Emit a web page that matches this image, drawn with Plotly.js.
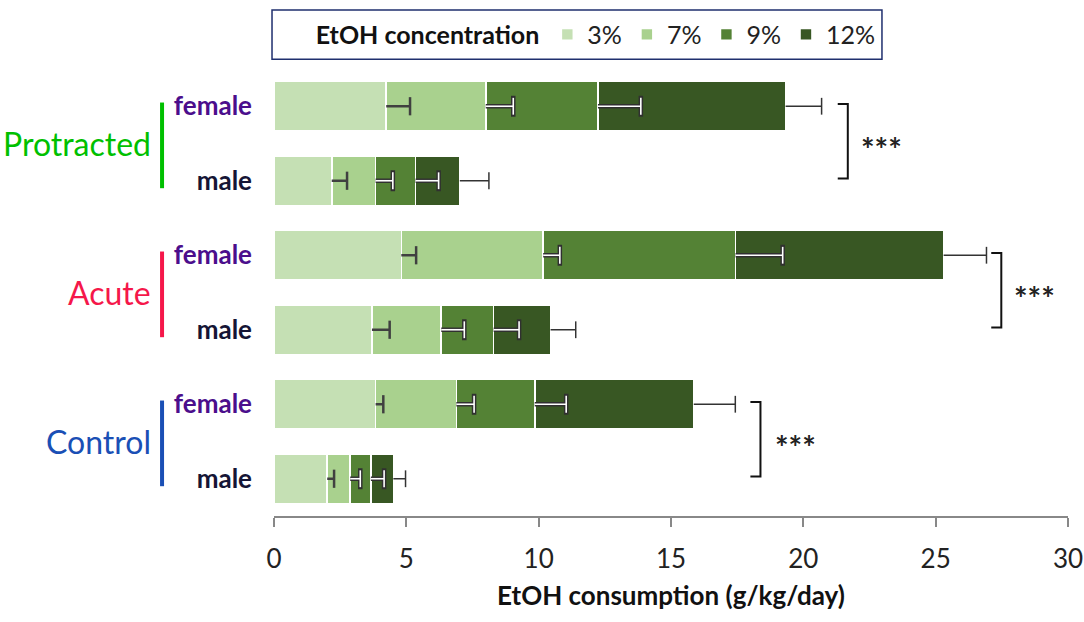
<!DOCTYPE html>
<html>
<head>
<meta charset="utf-8">
<script src="https://cdn.plot.ly/plotly-3.0.1.min.js"></script>
<style>html,body{margin:0;padding:0;background:#fff;}#chart{width:1084px;height:622px;}</style>
</head>
<body>
<div id="chart"></div>
<script>
// ---------- data ----------
const groups = ['Protracted', 'Acute', 'Control'];
const sexes = ['female', 'male'];
const concentrations = ['3%', '7%', '9%', '12%'];
// rows: Protracted female, Protracted male, Acute female, Acute male, Control female, Control male
const conc3  = [4.24, 2.18, 4.81, 3.70, 3.84, 2.01];
const conc7  = [3.76, 1.66, 5.36, 2.62, 3.05, 0.87];
const conc9  = [4.24, 1.51, 7.27, 1.98, 2.96, 0.78];
const conc12 = [7.09, 1.67, 7.86, 2.15, 6.01, 0.85];
const err3   = [0.90, 0.58, 0.56, 0.67, 0.29, 0.26];
const err7   = [1.04, 0.65, 0.63, 0.87, 0.67, 0.38];
const err9   = [1.62, 0.87, 1.78, 0.96, 1.19, 0.50];
const err12  = [1.36, 1.10, 1.62, 0.95, 1.57, 0.46];
const significance = ['***', '***', '***'];
const xTicks = [0, 5, 10, 15, 20, 25, 30];

// ---------- styling ----------
const FONT = 'Lato, "Open Sans", sans-serif';
const barColors = ['#c5e0b4', '#a9d18e', '#548235', '#385723'];
const groupColors = ['#00c000', '#f5174a', '#1a4fb5'];
const sexColors = {female: '#4b0e8c', male: '#151535'};

const rowLabels = [];
groups.forEach((g, gi) => sexes.forEach(s => { rowLabels.push(s); }));
const nRows = rowLabels.length;
const ypos = rowLabels.map((_, i) => nRows - 1 - i);

const series = [conc3, conc7, conc9, conc12];
const errs = [err3, err7, err9, err12];

// cumulative ends
const cum = [];
let run = rowLabels.map(() => 0);
series.forEach(s => { run = run.map((v, i) => v + s[i]); cum.push(run.slice()); });

const traces = [];
series.forEach((s, k) => {
  traces.push({
    type: 'bar', orientation: 'h', name: concentrations[k],
    x: s, y: ypos,
    marker: {color: barColors[k], line: {color: '#ffffff', width: 1.6}},
    hoverinfo: 'x+name'
  });
});

function whisker(k, color, lw, capSize) {
  const xs = [], ys = [];
  cum[k].forEach((c, i) => { xs.push(c, c + errs[k][i], null); ys.push(ypos[i], ypos[i], null); });
  traces.push({type: 'scatter', mode: 'lines', x: xs, y: ys, showlegend: false, hoverinfo: 'skip',
    line: {color: color, width: lw}});
  traces.push({type: 'scatter', mode: 'markers', x: cum[k].map((c, i) => c + errs[k][i]), y: ypos,
    showlegend: false, hoverinfo: 'skip',
    marker: {symbol: 'line-ns', size: capSize, color: color, line: {color: color, width: lw}}});
}
// 3% : dark grey
whisker(0, '#404040', 2.5, 13);
// 7% & 9% : white with dark outline
whisker(1, '#303030', 4.5, 15);
whisker(1, '#ffffff', 1.6, 12);
whisker(2, '#303030', 4.5, 15);
whisker(2, '#ffffff', 1.6, 12);
// 12% : thin dark
whisker(3, '#333333', 1.5, 12);

// ---------- annotations & shapes ----------
const annotations = [];
const shapes = [];
const bracketX = [21.3, 27.1, 18.0];
const starX = [22.95, 28.75, 19.7];
groups.forEach((g, gi) => {
  const yf = ypos[gi * 2], ym = ypos[gi * 2 + 1];
  const mid = (yf + ym) / 2;
  annotations.push({xref: 'paper', yref: 'y', x: -0.152, y: mid, xanchor: 'right', yanchor: 'middle',
    text: g, showarrow: false, font: {family: FONT, size: 32, color: groupColors[gi]}});
  shapes.push({type: 'line', xref: 'paper', yref: 'y', x0: -0.141, x1: -0.141, y0: yf + 0.05, y1: ym - 0.1,
    line: {color: groupColors[gi], width: 4}});
  const bx = bracketX[gi];
  shapes.push({type: 'path', xref: 'x', yref: 'y',
    path: `M${bx},${yf + 0.03} L${bx + 0.38},${yf + 0.03} L${bx + 0.38},${ym + 0.03} L${bx},${ym + 0.03}`,
    line: {color: '#111', width: 2}});
  annotations.push({xref: 'x', yref: 'y', x: starX[gi], y: mid + 0.03, xanchor: 'center', yanchor: 'middle',
    yshift: -8, text: significance[gi], showarrow: false,
    font: {family: FONT, size: 32, color: '#222', weight: 'bold'}});
});

// legend box
shapes.push({type: 'rect', xref: 'paper', yref: 'paper', x0: -0.0025, x1: 0.7657, y0: 1.022, y1: 1.1322,
  line: {color: '#1f2f6e', width: 1.5}, fillcolor: 'rgba(0,0,0,0)'});

const layout = {
  width: 1084, height: 622,
  margin: {l: 274, r: 16, t: 60, b: 106},
  paper_bgcolor: '#fff', plot_bgcolor: '#fff',
  barmode: 'stack', bargap: 0.33,
  font: {family: FONT, color: '#222'},
  showlegend: true,
  legend: {orientation: 'h', x: 0.05, xanchor: 'left', y: 1.077, yanchor: 'middle',
    title: {text: '<b>EtOH concentration</b>', side: 'left', font: {family: FONT, size: 25, color: '#111'}},
    font: {family: FONT, size: 25, color: '#222'}, bgcolor: 'rgba(0,0,0,0)', borderwidth: 0,
    traceorder: 'normal', itemclick: false},
  xaxis: {range: [0, 30], tickvals: xTicks, ticktext: xTicks.map(String), showgrid: false, zeroline: false,
    showline: true, linecolor: '#888', linewidth: 1.5, ticks: 'outside', ticklen: 9, tickwidth: 1.5, tickcolor: '#888',
    ticklabelstandoff: 10, tickfont: {family: FONT, size: 26, color: '#222'},
    title: {text: '<b>EtOH consumption (g/kg/day)</b>', standoff: 14, font: {family: FONT, size: 26, color: '#111'}},
    fixedrange: true},
  yaxis: {range: [-0.5, nRows - 0.5], tickvals: ypos,
    ticktext: rowLabels.map(s => `<b><span style="color:${sexColors[s]}">${s}</span></b>`),
    showgrid: false, zeroline: false, showline: false, ticks: '', ticklabelstandoff: 21,
    tickfont: {family: FONT, size: 26}, fixedrange: true},
  annotations: annotations,
  shapes: shapes
};

Plotly.newPlot('chart', traces, layout, {displayModeBar: false, staticPlot: false});
</script>
</body>
</html>
